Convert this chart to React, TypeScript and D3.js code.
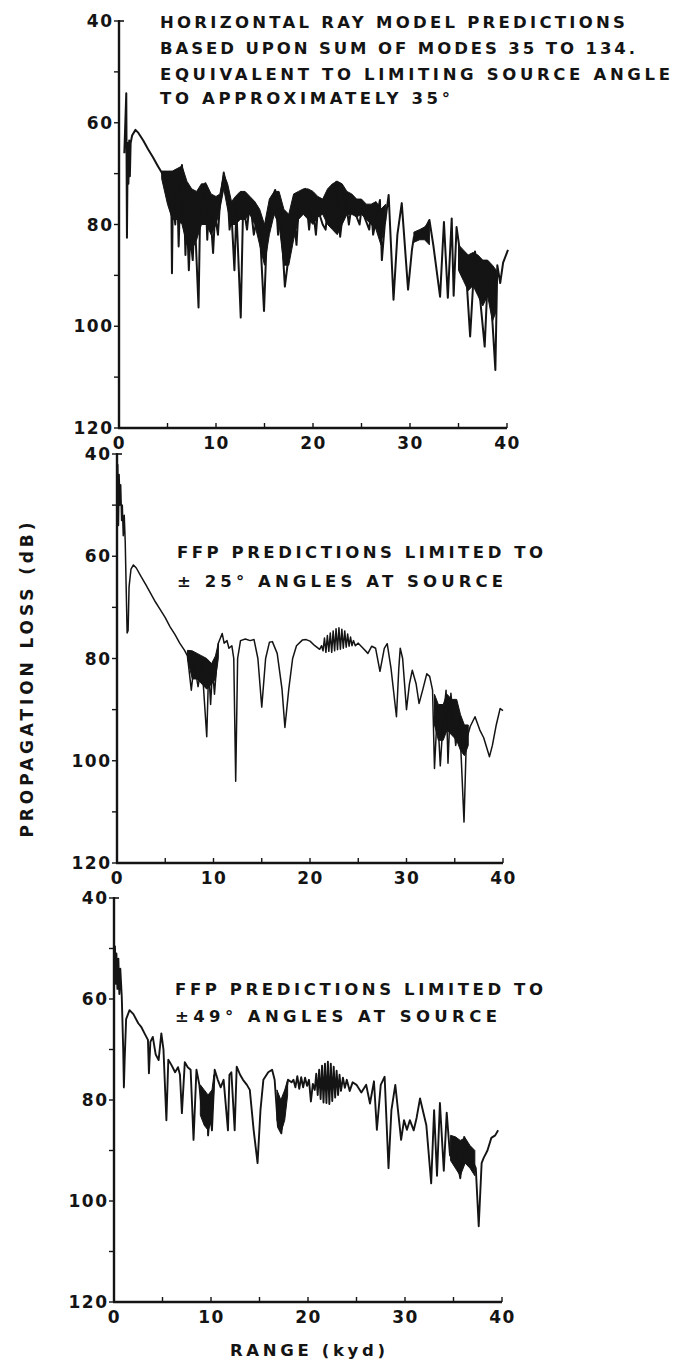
import React from "react";
import * as d3 from "d3";

// Range axis (kyd) and loss axis (dB) ticks
const rangeTicks = [0, 10, 20, 30, 40];
const rangeMinorTicks = [0, 5, 10, 15, 20, 25, 30, 35, 40];
const lossTicks = [40, 60, 80, 100, 120];
const lossMinorTicks = [40, 50, 60, 70, 80, 90, 100, 110, 120];

// Horizontal ray model, modes 35-134: [range kyd, loss dB]
const rayTrace: [number, number][] = [
  [0.55, 66], [0.75, 54.2], [0.82, 82.6], [0.9, 64], [0.97, 72], [1.05, 63.5], [1.12, 70.5],
  [1.2, 64], [1.35, 62.5], [1.7, 61.4], [2.0, 62], [2.5, 63.5], [3.0, 65.2], [3.5, 66.8],
  [4.0, 68.5], [4.4, 69.8], [5.0, 72], [5.4, 76], [5.46, 89.6], [5.55, 75], [5.8, 80],
  [6.0, 72], [6.15, 84.3], [6.3, 74], [6.49, 68.3], [6.7, 75], [6.85, 86], [7.0, 78],
  [7.2, 89], [7.35, 82], [7.6, 87], [7.8, 78], [8.2, 96.3], [8.35, 79], [8.9, 71.9],
  [9.1, 83], [9.3, 75], [9.5, 80], [9.7, 85.6], [9.9, 78], [10.2, 82], [10.4, 76],
  [10.8, 69.8], [11.2, 74], [11.4, 81], [11.6, 78], [11.9, 89], [12.1, 77], [12.55, 98.3],
  [12.8, 76], [13.2, 81], [13.5, 75], [13.9, 82], [14.3, 78], [14.6, 84], [14.95, 97],
  [15.2, 84], [15.6, 76], [16.1, 73.2], [16.4, 82], [16.6, 76], [17.1, 92.2], [17.5, 86],
  [18.0, 78], [18.3, 84], [18.6, 74], [19.2, 73], [19.6, 81], [19.9, 75], [20.3, 82],
  [20.5, 77], [21.0, 80], [21.3, 81], [21.5, 77], [22.0, 79], [22.4, 71.6], [22.8, 82.4],
  [23.3, 74], [23.7, 80], [24.0, 76], [24.8, 80], [25.0, 77], [25.8, 81], [26.0, 77],
  [26.2, 82], [26.5, 79], [26.9, 75.2], [27.1, 87], [27.4, 80], [27.8, 74.2], [28.3, 94.8],
  [28.7, 82], [29.15, 75.8], [29.8, 92.8], [30.2, 85], [30.4, 82.5], [31.0, 82], [31.5, 81],
  [32.0, 79.1], [32.4, 84], [33.1, 94.2], [33.5, 79.5], [33.9, 94.4], [34.3, 78.8],
  [34.5, 94], [34.8, 80.5], [35.2, 86], [35.8, 90], [36.2, 102], [36.7, 85.3], [37.1, 92],
  [37.7, 104], [38.0, 91], [38.4, 96], [38.8, 108.6], [39.0, 88], [39.3, 91.5], [39.6, 87.5],
  [40.1, 85],
];

// Envelope of the densely oscillating stretches: [range, upper loss, lower loss]
const rayBands: [number, number, number][][] = [
  [
    [4.4, 69.5, 71], [5.0, 69.5, 76], [5.5, 69.5, 79], [6.0, 69.0, 79], [6.5, 68.5, 80],
    [7.0, 71.5, 84], [7.5, 73, 85], [8.0, 73.5, 83], [8.5, 72, 80], [9.0, 72, 80],
    [9.5, 74, 82], [10.0, 74.5, 80], [10.4, 74, 77], [10.8, 70, 73], [11.2, 72, 77],
    [11.6, 75.5, 80], [12.0, 74.5, 80], [12.5, 73.5, 79], [13.0, 73.5, 79], [13.5, 74.5, 78],
    [14.0, 75.5, 80], [14.5, 77, 84], [15.0, 80, 88], [15.5, 75, 82], [16.0, 73.5, 78],
    [16.5, 73.5, 80], [17.0, 77, 88], [17.5, 78, 88], [18.0, 74, 83], [18.5, 73.5, 79],
    [19.0, 73, 78], [19.5, 73, 79], [20.0, 73.5, 80], [20.5, 74.5, 78.5], [21.0, 75, 78],
    [21.5, 73, 80], [22.0, 72, 81], [22.5, 71.5, 82], [23.0, 72, 80], [23.5, 73.5, 78],
    [24.0, 74, 78], [24.5, 75, 78.5], [25.0, 75, 78], [25.5, 76, 79], [26.0, 76, 80],
    [26.5, 75.5, 81], [27.0, 77, 84], [27.5, 76, 79],
  ],
  [[30.4, 81.5, 83.5], [31.0, 81, 83], [31.5, 80.5, 83], [32.0, 79.5, 84]],
  [
    [35.0, 84, 89], [35.5, 85, 91], [36.0, 86, 93], [36.5, 85.5, 92], [37.0, 86, 94],
    [37.5, 87, 96], [38.0, 87, 94], [38.5, 88, 99], [38.9, 89, 97],
  ],
];

// FFP, +/-25 degree source angles
const ffp25Trace: [number, number][] = [
  [0.08, 42], [0.15, 54], [0.22, 44], [0.3, 50], [0.38, 46], [0.48, 53], [0.55, 50],
  [0.65, 56], [0.75, 52], [0.85, 57], [0.95, 66], [1.05, 75], [1.15, 74.5], [1.25, 66],
  [1.45, 62.5], [1.7, 61.7], [2.0, 62.3], [2.5, 64], [3.0, 65.6], [3.5, 67.3], [4.0, 69],
  [4.5, 70.5], [5.0, 72], [5.5, 73.8], [6.0, 75.3], [6.5, 77], [7.0, 78.4], [7.3, 79.5],
  [7.7, 86.2], [8.0, 81], [8.4, 85.5], [8.8, 81], [9.3, 95.3], [9.5, 82], [9.7, 89],
  [9.9, 82], [10.1, 87], [10.5, 77], [10.9, 75.1], [11.1, 77], [11.4, 76.5], [11.6, 78],
  [11.9, 77.5], [12.1, 80], [12.3, 104], [12.5, 80], [12.8, 76.5], [13.3, 76.2],
  [13.8, 76.5], [14.2, 76.3], [14.6, 80], [15.0, 89.5], [15.4, 80], [15.8, 76.8],
  [16.1, 76.7], [16.6, 79], [17.1, 86], [17.4, 93.5], [17.8, 86], [18.2, 80], [18.6, 77.5],
  [19.2, 76.4], [19.6, 76.3], [20.0, 76.6], [20.5, 77.5], [21.0, 78.2], [21.2, 77.5],
  [21.35, 78.5], [21.5, 76], [21.65, 78.8], [21.8, 75.5], [21.95, 78.6], [22.1, 75],
  [22.25, 78.8], [22.4, 74.6], [22.55, 78.5], [22.7, 74.2], [22.85, 78.3], [23.0, 74],
  [23.15, 78.2], [23.3, 74.3], [23.45, 78], [23.6, 74.6], [23.75, 77.8], [23.9, 75.2],
  [24.05, 77.6], [24.2, 75.8], [24.35, 77.5], [24.5, 76.5], [24.7, 77.5], [25.0, 77],
  [25.5, 78], [26.0, 79], [26.4, 77.6], [26.8, 78], [27.25, 82.5], [27.7, 78], [28.0, 77.1],
  [28.4, 82], [28.96, 91.4], [29.2, 82], [29.35, 78], [29.6, 80], [30.0, 90], [30.3, 85],
  [30.6, 82.3], [31.0, 85], [31.3, 88.8], [31.7, 86], [32.1, 83], [32.4, 83.5],
  [32.7, 86.2], [32.9, 101.5], [33.2, 90], [33.5, 101], [33.8, 92], [34.1, 86.2],
  [34.3, 100.5], [34.6, 86.8], [35.1, 97], [35.5, 92], [35.96, 112], [36.2, 96],
  [36.6, 93.3], [37.1, 91.4], [37.6, 94], [38.0, 95.5], [38.6, 99.2], [38.9, 97], [39.3, 93],
  [39.7, 89.8], [40.0, 90.2],
];

const ffp25Bands: [number, number, number][][] = [
  [
    [7.3, 78.4, 80], [7.8, 78.5, 84], [8.3, 79, 84], [8.8, 79.5, 85], [9.3, 80, 86],
    [9.8, 81, 85], [10.2, 79.5, 84], [10.5, 77, 80],
  ],
  [
    [32.9, 87, 93], [33.3, 89, 96], [33.8, 89, 96], [34.2, 87, 94], [34.7, 88, 95],
    [35.2, 88, 96], [35.6, 91, 98], [36.0, 93, 99], [36.4, 93, 97],
  ],
];

// FFP, +/-49 degree source angles
const ffp49Trace: [number, number][] = [
  [0.05, 52], [0.1, 49.6], [0.18, 57], [0.25, 51], [0.35, 58], [0.45, 52], [0.55, 59],
  [0.65, 54], [0.8, 59.5], [0.95, 70], [1.02, 77.5], [1.1, 72], [1.25, 64], [1.6, 62.2],
  [2.0, 63], [2.5, 64.8], [2.8, 65.5], [3.2, 67], [3.5, 68.1], [3.6, 74.7], [3.75, 68.5],
  [4.0, 67.5], [4.3, 71], [4.6, 72.1], [4.88, 66.8], [5.1, 70], [5.4, 84], [5.6, 72],
  [5.9, 73], [6.3, 74.5], [6.6, 73.5], [6.8, 75], [7.0, 82.6], [7.3, 72.5], [7.6, 73.5],
  [7.9, 74], [8.2, 87.9], [8.5, 74], [8.8, 77], [9.0, 81], [9.2, 79], [9.4, 85], [9.6, 80],
  [9.7, 87], [9.9, 82], [10.1, 86], [10.38, 74], [10.7, 76], [11.0, 77.5], [11.3, 76],
  [11.75, 86], [11.9, 75], [12.1, 74.5], [12.44, 86], [12.65, 73.4], [13.0, 75],
  [13.3, 76], [13.7, 77], [14.0, 78], [14.4, 86], [14.8, 92.5], [15.1, 82], [15.4, 76],
  [15.9, 74.5], [16.3, 74], [16.56, 76], [16.9, 85.3], [17.25, 86.6], [17.6, 80],
  [17.94, 76], [18.3, 76.5], [18.5, 76], [18.7, 77.5], [18.9, 75.3], [19.1, 77.8],
  [19.3, 75.5], [19.5, 77.5], [19.7, 75.6], [19.9, 77.2], [20.1, 76], [20.3, 80.3],
  [20.5, 76.8], [20.7, 78], [20.85, 74.8], [21.0, 79], [21.15, 74], [21.3, 79.8],
  [21.45, 73.2], [21.6, 80.5], [21.75, 72.8], [21.9, 80.6], [22.05, 72.4], [22.2, 80.8],
  [22.35, 72.8], [22.5, 80.2], [22.65, 73.4], [22.8, 79.5], [22.95, 74.2], [23.1, 79],
  [23.25, 75], [23.4, 78.2], [23.6, 75.6], [23.8, 77.6], [24.0, 76], [24.3, 78.2],
  [24.6, 76.5], [25.0, 77], [25.5, 78.5], [26.0, 77], [26.39, 80.7], [26.8, 76.3],
  [27.1, 85.9], [27.5, 77], [27.9, 75.4], [28.3, 93.5], [28.6, 82], [29.0, 77], [29.6, 87.9],
  [29.9, 84], [30.2, 85.9], [30.5, 84], [30.9, 86], [31.2, 83.5], [31.55, 79.7], [32.2, 85],
  [32.7, 96.5], [33.0, 82], [33.3, 95], [33.6, 80.6], [34.0, 94], [34.3, 82.5], [34.64, 91],
  [35.2, 90], [35.7, 95.5], [36.1, 87.3], [36.7, 91], [37.3, 93.5], [37.6, 105],
  [37.9, 92.5], [38.1, 91.5], [38.5, 90], [38.9, 87.5], [39.3, 87], [39.6, 86],
];

const ffp49Bands: [number, number, number][][] = [
  [[8.9, 77, 83], [9.3, 78, 85], [9.7, 79, 86], [10.1, 78, 84], [10.3, 75, 78]],
  [[16.8, 78, 84], [17.2, 80, 86.5], [17.6, 78, 84], [17.9, 76, 79]],
  [
    [34.7, 87, 92], [35.2, 87.3, 93.5], [35.7, 88, 95], [36.2, 87.5, 92.5], [36.7, 89, 93.5],
    [37.2, 90, 95],
  ],
];

// Panel captions
const rayNote = [
  "HORIZONTAL RAY MODEL PREDICTIONS",
  "BASED UPON SUM OF MODES 35 TO 134.",
  "EQUIVALENT TO LIMITING SOURCE ANGLE",
  "TO APPROXIMATELY 35°",
];
const ffp25Note = ["FFP PREDICTIONS LIMITED TO", "± 25° ANGLES AT SOURCE"];
const ffp49Note = ["FFP PREDICTIONS LIMITED TO", "±49° ANGLES AT SOURCE"];

const INK = "#141414";
const FONT = "'DejaVu Sans', 'Liberation Sans', Arial, sans-serif";

type Panel = {
  trace: [number, number][];
  bands: [number, number, number][][];
  note: string[];
  left: number;
  right: number;
  top: number;
  bottom: number;
  stroke: number;
  noteX: number;
  noteY: number[];
  noteW: number[];
};

const panels: Panel[] = [
  {
    trace: rayTrace, bands: rayBands, note: rayNote,
    left: 119, right: 507, top: 21, bottom: 428, stroke: 2,
    noteX: 160, noteY: [27.5, 54, 79.5, 104], noteW: [465, 475, 510, 290],
  },
  {
    trace: ffp25Trace, bands: ffp25Bands, note: ffp25Note,
    left: 117, right: 503, top: 454, bottom: 863, stroke: 1.5,
    noteX: 177, noteY: [558, 587], noteW: [366, 326],
  },
  {
    trace: ffp49Trace, bands: ffp49Bands, note: ffp49Note,
    left: 114, right: 502, top: 898, bottom: 1302, stroke: 1.9,
    noteX: 175, noteY: [995, 1022], noteW: [368, 322],
  },
];

function PanelView({ p }: { p: Panel }) {
  const x = d3.scaleLinear().domain([0, 40]).range([p.left, p.right]);
  const y = d3.scaleLinear().domain([40, 120]).range([p.top, p.bottom]);
  const line = d3
    .line<[number, number]>()
    .x((d) => x(d[0]))
    .y((d) => y(d[1]));
  const area = d3
    .area<[number, number, number]>()
    .x((d) => x(d[0]))
    .y0((d) => y(d[1]))
    .y1((d) => y(d[2]));
  return (
    <g>
      {p.bands.map((b, i) => (
        <path key={i} d={area(b) || ""} fill={INK} stroke={INK} strokeWidth={1} />
      ))}
      <path
        d={line(p.trace) || ""}
        fill="none"
        stroke={INK}
        strokeWidth={p.stroke}
        strokeLinejoin="round"
      />
      {/* axes */}
      <line x1={p.left} x2={p.left} y1={y(40) - 1} y2={y(120)} stroke={INK} strokeWidth={2.4} />
      <line x1={p.left - 1} x2={p.right} y1={y(120)} y2={y(120)} stroke={INK} strokeWidth={2.4} />
      <line x1={p.left} x2={p.left + 5} y1={y(40)} y2={y(40)} stroke={INK} strokeWidth={1.6} />
      {lossMinorTicks.map((t) => (
        <line key={t} x1={p.left - 5} x2={p.left} y1={y(t)} y2={y(t)} stroke={INK} strokeWidth={1.4} />
      ))}
      {rangeMinorTicks.map((t) => (
        <line key={t} x1={x(t)} x2={x(t)} y1={y(120)} y2={y(120) - 5} stroke={INK} strokeWidth={1.4} />
      ))}
      {lossTicks.map((t) => (
        <text
          key={t}
          x={p.left - 7 + 1.5}
          y={y(t)}
          dy="0.36em"
          textAnchor="end"
          fontSize={17}
          fontWeight="bold"
          letterSpacing={1.5}
          fontFamily={FONT}
          fill={INK}
        >
          {t}
        </text>
      ))}
      {rangeTicks.map((t) => (
        <text
          key={t}
          x={x(t) + 0.5}
          y={y(120) + 21}
          textAnchor="middle"
          fontSize={17}
          fontWeight="bold"
          letterSpacing={1.5}
          fontFamily={FONT}
          fill={INK}
        >
          {t}
        </text>
      ))}
      {p.note.map((s, i) => (
        <text
          key={i}
          x={p.noteX}
          y={p.noteY[i]}
          fontSize={16.5}
          fontWeight="bold"
          fontFamily={FONT}
          fill={INK}
          textLength={p.noteW[i]}
          lengthAdjust="spacing"
        >
          {s}
        </text>
      ))}
    </g>
  );
}

export default function App() {
  return (
    <svg
      width={679}
      height={1364}
      viewBox="0 0 679 1364"
      style={{ position: "absolute", left: 0, top: 0, background: "#fff" }}
    >
      <rect width={679} height={1364} fill="#fff" />
      {panels.map((p, i) => (
        <PanelView key={i} p={p} />
      ))}
      <text
        transform="translate(33,680) rotate(-90)"
        textAnchor="middle"
        fontSize={17}
        fontWeight="bold"
        fontFamily={FONT}
        fill={INK}
        textLength={315}
        lengthAdjust="spacing"
      >
        PROPAGATION LOSS (dB)
      </text>
      <text
        x={230}
        y={1356}
        fontSize={16.5}
        fontWeight="bold"
        fontFamily={FONT}
        fill={INK}
        textLength={155}
        lengthAdjust="spacing"
      >
        RANGE (kyd)
      </text>
    </svg>
  );
}
